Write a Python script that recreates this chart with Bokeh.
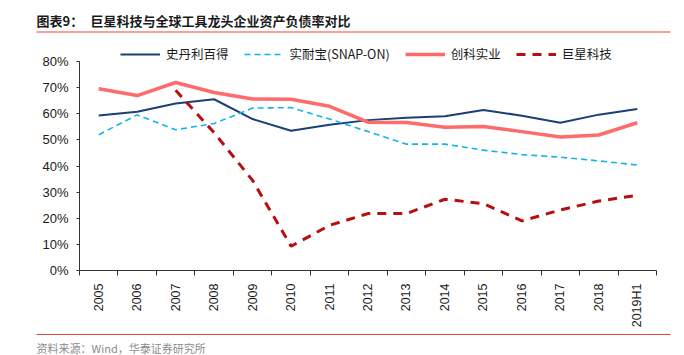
import math
from bokeh.plotting import figure
from bokeh.layouts import column
from bokeh.models import Range1d, FixedTicker
from bokeh.core.properties import value
from bokeh.embed import file_html
from bokeh.resources import INLINE

# ---- data ----
categories = ["2005", "2006", "2007", "2008", "2009", "2010", "2011", "2012",
              "2013", "2014", "2015", "2016", "2017", "2018", "2019H1"]
stanley = [59.4, 60.8, 64.0, 65.6, 58.0, 53.5, 55.8, 57.6, 58.5, 59.1, 61.5, 59.3, 56.6, 59.7, 61.9]
snapon = [52.0, 59.6, 53.9, 56.3, 62.2, 62.4, 58.0, 53.2, 48.4, 48.4, 46.1, 44.4, 43.4, 42.0, 40.4]
tti = [69.6, 67.0, 72.0, 68.2, 65.7, 65.6, 62.9, 56.8, 56.7, 54.9, 55.2, 53.2, 51.1, 51.9, 56.6]
greatstar = [float("nan"), float("nan"), 69.0, 52.8, 34.5, 9.3, 17.3, 21.8, 21.8, 27.3, 25.6, 19.0, 23.2, 26.6, 28.8]
series_names = ["史丹利百得", "实耐宝(SNAP-ON)", "创科实业", "巨星科技"]
y_ticks = [0, 10, 20, 30, 40, 50, 60, 70, 80]
title_head = "图表9："
title_text = "巨星科技与全球工具龙头企业资产负债率对比"
source_text = "资料来源：Wind，华泰证券研究所"

W = 684
CJK = "Noto Sans CJK SC"
LAT = "Liberation Sans"
RED = "#E8473C"


def strip(h):
    f = figure(width=W, height=h, x_range=Range1d(0, W), y_range=Range1d(h, 0),
               output_backend="svg", toolbar_location=None, min_border=0,
               frame_align=False)
    f.axis.visible = False
    f.grid.visible = False
    f.outline_line_color = None
    return f


# ---- title strip ----
top = strip(40)
top.text(x=[36], y=[20], text=[title_head], text_font=value(CJK), text_font_size="13px",
         text_font_style="bold", text_color="#1a1a1a", text_baseline="middle")
top.text(x=[90], y=[20], text=[title_text], text_font=value(CJK), text_font_size="13px",
         text_font_style="bold", text_color="#1a1a1a", text_baseline="middle")
top.line(x=[36, 670], y=[31.5, 31.5], line_color=RED, line_width=1.2)

# ---- main chart ----
xs = list(range(len(categories)))
p = figure(width=W, height=290, x_range=Range1d(-0.5, len(categories) - 0.5),
           y_range=Range1d(0, 88.1), output_backend="svg", toolbar_location=None,
           min_border_left=79, min_border_right=28, min_border_top=0, min_border_bottom=58,
           frame_align=False)
p.outline_line_color = None
p.grid.visible = False

p.line(xs, stanley, line_color="#1B3F78", line_width=2, legend_label=series_names[0])
p.line(xs, snapon, line_color="#12B2F0", line_width=1.6, line_dash="6 4", legend_label=series_names[1])
p.line(xs, tti, line_color="#FF6B6B", line_width=3.5, legend_label=series_names[2])
p.line(xs, greatstar, line_color="#B50F0F", line_width=3, line_dash="9 7", legend_label=series_names[3])

p.yaxis.ticker = FixedTicker(ticks=y_ticks)
p.yaxis.major_label_overrides = {t: f"{t}%" for t in y_ticks}
p.yaxis.bounds = (0, 80)
p.xaxis.ticker = FixedTicker(ticks=xs, minor_ticks=[i - 0.5 for i in range(len(categories) + 1)])
p.xaxis.major_label_overrides = {i: c for i, c in enumerate(categories)}
p.xaxis.major_label_orientation = math.pi / 2
p.xaxis.major_tick_out = 0
p.xaxis.major_tick_in = 0
p.xaxis.minor_tick_out = 5
p.xaxis.minor_tick_in = 0
p.yaxis.major_tick_out = 3
p.yaxis.major_tick_in = 0
p.yaxis.minor_tick_out = 0
p.yaxis.minor_tick_in = 0
for ax in (p.xaxis, p.yaxis):
    ax.axis_line_color = "#333333"
    ax.major_tick_line_color = "#333333"
    ax.minor_tick_line_color = "#333333"
    ax.major_label_text_font = LAT
    ax.major_label_text_color = "#1a1a1a"
p.xaxis.major_label_text_font_size = "12.5px"
p.yaxis.major_label_text_font_size = "13px"
p.xaxis.major_label_standoff = 8
p.yaxis.major_label_standoff = 8

lg = p.legend[0]
lg.location = (41, 207)
lg.orientation = "horizontal"
lg.border_line_color = None
lg.background_fill_alpha = 0
lg.padding = 0
lg.margin = 0
lg.spacing = 15
lg.glyph_width = 40
lg.glyph_height = 14
lg.label_height = 14
lg.label_standoff = 6
lg.label_text_font = CJK
lg.label_text_font_size = "12.5px"
lg.label_text_color = "#1a1a1a"

# ---- source strip ----
bot = strip(25)
bot.line(x=[36, 670], y=[4, 4], line_color=RED, line_width=1.2)
bot.text(x=[36], y=[17], text=[source_text], text_font=value(CJK), text_font_size="11px",
         text_color="#8c8c8c", text_baseline="middle")

layout = column(top, p, bot, spacing=0)
open("out.html", "w").write(file_html(layout, INLINE))
